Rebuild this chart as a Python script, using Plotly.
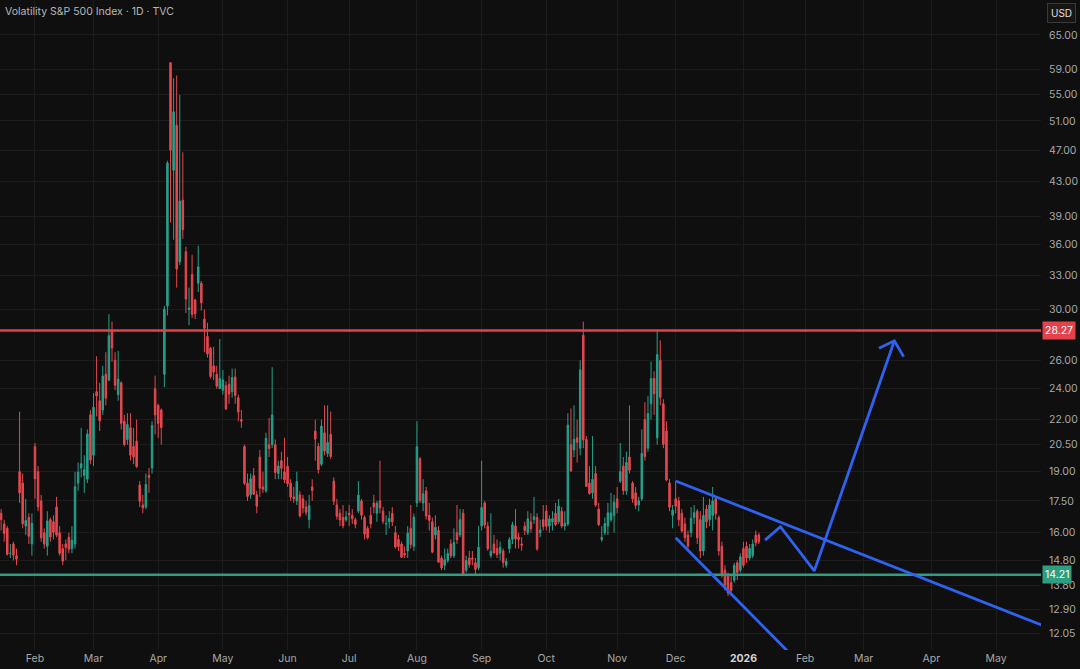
import math
import pandas as pd
import plotly.graph_objects as go

# ---------------- data ----------------
title_text = "Volatility S&P 500 Index · 1D · TVC"

holidays = ["2025-01-20", "2025-02-17", "2025-04-18", "2025-05-26", "2025-06-19",
            "2025-07-04", "2025-09-01", "2025-11-27", "2025-12-25", "2026-01-01",
            "2026-01-19", "2026-02-16", "2026-04-03", "2026-05-25"]
first_day = "2025-01-16"

# daily candles (open, high, low, close), one list per month
ohlc_2025_01 = [
    (16.9, 17.1, 16.1, 16.6), (16.4, 16.6, 15.6, 15.97), (16.2, 16.3, 15.0, 15.06),
    (15.1, 15.5, 14.9, 15.10), (15.5, 15.6, 14.8, 15.02), (15.0, 15.3, 14.6, 14.85),
    (19.0, 22.5, 17.4, 17.90), (18.4, 18.9, 16.2, 16.41), (16.3, 17.6, 15.9, 16.56),
    (16.7, 16.9, 15.5, 15.84), (15.5, 16.9, 15.0, 16.43),
]
ohlc_2025_02 = [
    (20.4, 20.6, 17.6, 18.62), (19.0, 19.3, 17.0, 17.21), (17.5, 17.8, 15.6, 15.77),
    (16.0, 16.2, 15.3, 15.50), (15.4, 17.0, 15.0, 16.54), (16.6, 16.7, 15.6, 15.81),
    (16.5, 16.8, 15.7, 16.02), (17.2, 17.7, 15.8, 15.89), (16.0, 16.3, 15.0, 15.10),
    (15.3, 15.5, 14.6, 14.77), (15.5, 15.7, 14.8, 15.35), (15.8, 16.0, 15.1, 15.27),
    (15.3, 16.3, 15.1, 15.66), (15.5, 19.0, 15.3, 18.21), (18.4, 19.5, 18.0, 18.98),
    (19.2, 21.5, 18.7, 19.43), (18.8, 19.9, 17.9, 19.10), (18.6, 21.4, 18.4, 21.13),
    (22.3, 22.6, 19.4, 19.63),
]
ohlc_2025_03 = [
    (19.9, 23.7, 19.3, 22.78), (23.8, 26.3, 22.2, 23.51), (23.2, 24.4, 21.3, 21.93),
    (22.6, 25.6, 22.3, 24.87), (25.0, 26.6, 22.9, 23.37), (24.6, 29.6, 24.5, 27.86),
    (28.3, 29.0, 25.9, 26.92), (26.0, 26.6, 23.9, 24.23), (23.6, 26.7, 23.2, 24.66),
    (24.4, 24.5, 21.4, 21.77), (21.9, 22.3, 20.4, 20.51), (20.8, 22.4, 20.5, 21.70),
    (21.5, 22.4, 19.6, 19.90), (20.4, 21.5, 19.4, 19.80), (20.7, 22.0, 19.2, 19.28),
    (18.3, 18.5, 17.2, 17.48), (17.3, 17.8, 16.9, 17.15), (17.2, 18.9, 17.1, 18.33),
    (18.8, 19.2, 17.9, 18.69), (19.2, 21.9, 18.9, 21.65), (24.0, 24.9, 21.1, 22.28),
]
ohlc_2025_04 = [
    (22.9, 23.0, 20.9, 21.77), (22.6, 22.7, 20.5, 21.51), (25.0, 30.3, 24.1, 30.02),
    (30.3, 45.6, 29.5, 45.31), (60.1, 60.13, 38.3, 46.98), (44.4, 57.5, 36.5, 52.33),
    (50.4, 57.96, 31.9, 33.62), (34.3, 54.9, 34.0, 40.72), (40.8, 46.7, 36.6, 37.56),
    (35.3, 35.8, 29.7, 30.89), (30.0, 31.9, 28.7, 30.12), (33.1, 35.0, 29.3, 29.6),
    (30.8, 30.9, 29.2, 29.65), (32.3, 35.9, 31.5, 33.82), (32.3, 32.5, 29.9, 30.57),
    (29.2, 30.0, 26.6, 28.45), (27.8, 28.9, 26.2, 26.47), (26.9, 27.0, 24.7, 24.84),
    (25.6, 27.0, 24.6, 25.15), (25.0, 25.6, 24.0, 24.17), (24.0, 27.6, 24.0, 24.70),
]
ohlc_2025_05 = [
    (23.9, 25.3, 23.6, 24.60), (24.2, 24.5, 22.6, 22.68), (24.3, 24.9, 23.0, 23.64),
    (23.8, 25.4, 23.4, 24.76), (24.8, 25.4, 23.0, 23.55), (23.4, 23.6, 21.9, 22.48),
    (22.0, 22.6, 21.5, 21.90), (20.4, 20.5, 18.3, 18.39), (18.4, 18.9, 17.5, 17.72),
    (17.8, 18.9, 17.6, 18.62), (18.8, 19.2, 17.8, 17.83), (17.8, 18.0, 16.9, 17.24),
    (19.8, 20.2, 17.7, 18.14), (18.2, 19.0, 17.9, 18.09), (18.0, 21.2, 17.9, 20.87),
    (20.5, 22.1, 19.8, 20.28), (20.5, 25.5, 20.3, 22.29), (20.5, 20.8, 18.6, 18.96),
    (18.9, 19.6, 18.6, 19.31), (19.6, 20.1, 18.6, 19.18), (19.0, 20.9, 18.4, 18.57),
]
ohlc_2025_06 = [
    (19.3, 19.8, 18.2, 18.36), (18.4, 18.6, 17.5, 17.69), (17.7, 18.2, 17.4, 17.61),
    (17.5, 19.0, 17.3, 18.48), (17.8, 18.0, 16.7, 16.77), (17.6, 17.8, 16.9, 17.16),
    (17.2, 17.5, 16.8, 16.95), (16.6, 17.8, 16.2, 17.26), (18.2, 18.6, 17.5, 18.02),
    (21.3, 22.0, 19.6, 20.82), (20.4, 20.6, 18.9, 19.11), (19.4, 22.0, 19.3, 21.60),
    (21.2, 22.9, 19.9, 20.14), (20.0, 22.9, 19.8, 20.62), (21.1, 22.5, 19.7, 19.83),
    (18.5, 18.7, 17.3, 17.48), (17.3, 17.6, 16.6, 16.76), (16.9, 17.1, 16.3, 16.59),
    (16.7, 17.3, 16.2, 16.32), (16.6, 17.0, 16.5, 16.73),
]
ohlc_2025_07 = [
    (16.9, 17.3, 16.3, 16.83), (16.8, 17.1, 16.4, 16.64), (16.6, 16.7, 16.2, 16.38),
    (17.0, 18.5, 16.9, 17.79), (17.5, 17.6, 16.6, 16.81), (16.7, 16.8, 15.7, 15.94),
    (16.2, 16.3, 15.7, 15.78), (16.8, 17.2, 16.2, 16.40), (17.4, 17.8, 16.9, 17.20),
    (16.9, 17.5, 16.5, 17.38), (17.5, 19.6, 16.9, 17.16), (17.0, 17.2, 16.4, 16.52),
    (16.4, 16.8, 15.9, 16.41), (16.5, 17.0, 16.2, 16.65), (16.9, 17.2, 16.3, 16.50),
    (16.0, 16.3, 15.3, 15.37), (15.7, 15.9, 15.2, 15.39), (15.5, 15.6, 14.9, 14.93),
    (15.1, 15.4, 14.9, 15.03), (15.2, 16.3, 14.9, 15.98), (16.2, 17.3, 15.3, 15.48),
    (15.4, 16.9, 15.2, 16.72),
]
ohlc_2025_08 = [
    (17.4, 21.9, 17.2, 20.38), (19.7, 19.8, 17.4, 17.52), (17.4, 18.6, 17.0, 17.85),
    (18.0, 18.2, 16.6, 16.77), (16.8, 17.4, 16.1, 16.57), (16.5, 16.7, 15.1, 15.15),
    (15.9, 16.8, 15.7, 16.25), (16.1, 16.3, 14.7, 14.73), (14.9, 15.0, 14.4, 14.49),
    (14.6, 15.3, 14.4, 14.83), (14.8, 15.3, 14.7, 15.09), (15.5, 15.7, 14.9, 14.99),
    (15.0, 16.2, 14.9, 15.57), (16.0, 17.3, 15.5, 15.69), (15.9, 17.1, 15.8, 16.60),
    (16.9, 17.1, 14.2, 14.22), (14.4, 15.0, 14.3, 14.79), (14.9, 15.2, 14.5, 14.62),
    (14.9, 15.2, 14.6, 14.85), (14.7, 14.9, 14.2, 14.43), (14.5, 16.3, 14.4, 15.36),
]
ohlc_2025_09 = [
    (16.3, 19.6, 16.1, 17.17), (17.4, 17.5, 16.2, 16.35), (16.3, 16.5, 15.2, 15.30),
    (15.0, 16.9, 14.9, 15.18), (15.5, 15.9, 15.1, 15.11), (15.3, 15.7, 14.9, 15.04),
    (15.1, 15.6, 14.8, 15.35), (15.2, 15.3, 14.5, 14.71), (14.6, 14.9, 14.5, 14.76),
    (15.3, 15.8, 15.1, 15.69), (15.7, 16.5, 15.5, 16.36), (16.3, 17.1, 15.3, 15.72),
    (15.8, 16.0, 15.3, 15.70), (15.5, 15.8, 15.2, 15.45), (16.3, 16.5, 15.9, 16.10),
    (16.0, 17.0, 15.9, 16.64), (16.5, 16.9, 16.0, 16.18), (16.6, 17.7, 16.4, 16.74),
    (16.7, 16.9, 15.2, 15.29), (16.0, 16.6, 15.8, 16.12), (16.6, 17.3, 16.1, 16.28),
]
ohlc_2025_10 = [
    (17.0, 17.3, 16.1, 16.29), (16.3, 16.8, 16.0, 16.63), (16.5, 17.0, 16.1, 16.65),
    (16.9, 17.4, 16.3, 16.37), (16.5, 17.6, 16.4, 17.24), (17.0, 17.2, 16.2, 16.30),
    (16.3, 17.0, 16.1, 16.43), (16.4, 22.4, 16.3, 21.66), (20.5, 22.7, 19.0, 19.03),
    (20.2, 22.9, 19.8, 20.81), (20.9, 22.0, 19.5, 20.64), (20.3, 26.0, 19.9, 25.31),
    (27.9, 28.99, 20.3, 20.78), (20.8, 21.0, 18.2, 18.23), (18.4, 19.3, 17.8, 17.87),
    (17.9, 21.0, 17.6, 18.60), (18.9, 19.3, 17.2, 17.30), (17.1, 17.4, 16.3, 16.37),
    (15.7, 16.3, 15.6, 15.79), (16.0, 16.7, 15.9, 16.42), (16.3, 17.4, 15.9, 16.92),
    (16.6, 17.9, 16.5, 16.91), (16.8, 17.8, 16.0, 17.44),
]
ohlc_2025_11 = [
    (17.6, 18.2, 16.9, 17.17), (18.5, 20.6, 18.4, 19.00), (19.3, 19.8, 17.8, 18.01),
    (18.0, 20.1, 17.8, 19.50), (19.8, 22.9, 18.9, 19.08), (18.4, 18.5, 17.4, 17.60),
    (17.9, 18.2, 17.1, 17.28), (17.3, 17.7, 17.0, 17.51), (17.6, 21.4, 17.5, 20.00),
    (22.0, 23.1, 19.6, 19.83), (20.3, 23.5, 20.1, 22.38), (23.0, 25.9, 22.0, 24.69),
    (24.7, 25.2, 22.3, 23.66), (20.9, 28.27, 20.5, 26.42), (26.0, 27.5, 22.9, 23.43),
    (23.0, 23.3, 20.3, 20.52), (21.3, 21.9, 18.5, 18.56), (18.4, 18.6, 17.0, 17.19),
    (16.8, 17.3, 16.2, 17.05),
]
ohlc_2025_12 = [
    (17.6, 18.5, 16.9, 17.24), (17.5, 17.7, 16.3, 16.59), (16.9, 17.1, 16.0, 16.08),
    (16.4, 16.7, 15.6, 15.78), (15.9, 16.1, 15.3, 15.41), (16.0, 17.2, 15.8, 16.66),
    (16.7, 17.3, 16.4, 16.93), (17.0, 17.1, 15.5, 15.77), (16.6, 17.0, 14.9, 15.20),
    (15.2, 17.7, 15.0, 16.80), (17.1, 17.3, 16.2, 16.50), (16.6, 17.6, 16.3, 17.30),
    (16.8, 18.2, 16.1, 17.50), (17.6, 17.7, 16.6, 16.87), (16.7, 16.8, 15.0, 15.20),
    (15.4, 15.6, 14.1, 14.20), (14.4, 14.6, 13.6, 13.80), (14.2, 14.3, 13.38, 13.50),
    (13.9, 14.2, 13.4, 13.60), (14.0, 14.7, 13.9, 14.60), (14.7, 14.8, 14.0, 14.30),
    (14.4, 15.1, 14.3, 14.95),
]
ohlc_2026_01 = [
    (15.3, 15.6, 14.5, 14.60), (15.4, 15.6, 14.7, 14.90), (14.9, 15.5, 14.8, 15.30),
    (15.0, 15.7, 14.9, 15.50), (15.9, 16.1, 15.4, 15.55), (15.9, 16.0, 15.5, 15.60),
]

monthly = [
    ("2025-01", ohlc_2025_01), ("2025-02", ohlc_2025_02), ("2025-03", ohlc_2025_03),
    ("2025-04", ohlc_2025_04), ("2025-05", ohlc_2025_05), ("2025-06", ohlc_2025_06),
    ("2025-07", ohlc_2025_07), ("2025-08", ohlc_2025_08), ("2025-09", ohlc_2025_09),
    ("2025-10", ohlc_2025_10), ("2025-11", ohlc_2025_11), ("2025-12", ohlc_2025_12),
    ("2026-01", ohlc_2026_01),
]

resistance_level = 28.27
support_level = 14.21

y_tick_values = [12.05, 12.90, 13.80, 14.80, 16.00, 17.50, 19.00, 20.50, 22.00, 24.00,
                 26.00, 30.00, 33.00, 36.00, 39.00, 43.00, 47.00, 51.00, 55.00, 59.00, 65.00]

month_ticks = [("2025-02", "Feb"), ("2025-03", "Mar"), ("2025-04", "Apr"), ("2025-05", "May"),
               ("2025-06", "Jun"), ("2025-07", "Jul"), ("2025-08", "Aug"), ("2025-09", "Sep"),
               ("2025-10", "Oct"), ("2025-11", "Nov"), ("2025-12", "Dec"), ("2026-01", "2026"),
               ("2026-02", "Feb"), ("2026-03", "Mar"), ("2026-04", "Apr"), ("2026-05", "May")]

# hand-drawn chart annotations: (trading date, price)
wedge_upper = [("2025-12-01", 18.51), ("2026-05-22", 12.33)]
wedge_lower = [("2025-12-01", 15.77), ("2026-01-29", 11.10)]
projection_path = [("2026-01-13", 15.67), ("2026-01-21", 16.27), ("2026-02-05", 14.37),
                   ("2026-03-16", 27.47)]
arrow_head = [("2026-03-09", 26.89), ("2026-03-16", 27.47), ("2026-03-19", 26.27)]

# ---------------- trading-day scale ----------------
cal = pd.bdate_range("2025-01-02", "2026-06-30")
cal = cal[~cal.isin(pd.to_datetime(holidays))]
cal_str = [d.strftime("%Y-%m-%d") for d in cal]
pos = {d: i for i, d in enumerate(cal_str)}

xs, opens, highs, lows, closes = [], [], [], [], []
for ym, rows in monthly:
    days = [d for d in cal_str if d.startswith(ym) and d >= first_day]
    days = days[:len(rows)]
    assert len(days) == len(rows), ym
    for d, (o, h, l, c) in zip(days, rows):
        xs.append(pos[d]); opens.append(o); highs.append(h); lows.append(l); closes.append(c)

anchor = pos["2025-02-03"]
x_range = [anchor - 11.36, anchor + 326.6]

tickvals, ticktext = [], []
for ym, lab in month_ticks:
    first = next(d for d in cal_str if d.startswith(ym))
    tickvals.append(pos[first])
    if lab == "2026":
        ticktext.append('<b><span style="color:#d6d6d6">2026</span></b>')
    else:
        ticktext.append(lab)

UP = "#26a08a"
DOWN = "#e5484f"
BLUE = "#2f62f0"
RED_LINE = "#e5414a"
GREEN_LINE = "#2e9e80"
BG = "#0f0f0f"
GRID = "#1c1c1c"
TXT = "#a8a8a8"

fig = go.Figure()
fig.add_trace(go.Candlestick(
    x=xs, open=opens, high=highs, low=lows, close=closes,
    increasing=dict(line=dict(color=UP, width=1), fillcolor=UP),
    decreasing=dict(line=dict(color=DOWN, width=1), fillcolor=DOWN),
    whiskerwidth=0, hoverinfo="skip", showlegend=False,
))

fig.add_trace(go.Scatter(x=x_range, y=[resistance_level] * 2, mode="lines",
                         line=dict(color=RED_LINE, width=2.5), hoverinfo="skip"))
fig.add_trace(go.Scatter(x=x_range, y=[support_level] * 2, mode="lines",
                         line=dict(color=GREEN_LINE, width=2.5), hoverinfo="skip"))

for pts in (wedge_upper, wedge_lower, projection_path, arrow_head):
    fig.add_trace(go.Scatter(x=[pos[d] for d, _ in pts], y=[p for _, p in pts],
                             mode="lines", line=dict(color=BLUE, width=2.8),
                             hoverinfo="skip"))

fig.update_layout(
    width=1080, height=669,
    margin=dict(l=0, r=39, t=0, b=19),
    paper_bgcolor=BG, plot_bgcolor=BG,
    showlegend=False, hovermode=False,
    font=dict(family="Inter, Roboto, sans-serif", size=10.5, color=TXT),
    xaxis=dict(range=x_range, tickmode="array", tickvals=tickvals, ticktext=ticktext,
               showgrid=True, gridcolor=GRID, gridwidth=1, zeroline=False,
               showline=False, ticks="", rangeslider=dict(visible=False),
               tickfont=dict(size=10.5, color=TXT)),
    yaxis=dict(type="log", side="right",
               range=[math.log10(11.50), math.log10(71.7)],
               tickmode="array", tickvals=y_tick_values,
               ticktext=[f"{v:.2f}" for v in y_tick_values],
               showgrid=True, gridcolor=GRID, gridwidth=1, zeroline=False,
               showline=False, ticks="", ticklabelstandoff=7,
               tickfont=dict(size=10.5, color=TXT)),
)

fig.add_annotation(x=0, y=1, xref="paper", yref="paper", xanchor="left", yanchor="top",
                   xshift=3, yshift=-3, text=title_text, showarrow=False,
                   font=dict(size=10.5, color="#b8b8b8"))
fig.add_annotation(x=1, y=1, xref="paper", yref="paper", xanchor="left", yanchor="top",
                   xshift=6, yshift=-3, text="USD", showarrow=False,
                   bordercolor="#3a3a3a", borderwidth=1, borderpad=3, bgcolor="#151515",
                   font=dict(size=10, color="#e0e0e0"))
for lvl, col in ((resistance_level, RED_LINE), (support_level, GREEN_LINE)):
    fig.add_annotation(x=1, y=math.log10(lvl), xref="paper", yref="y", xanchor="left",
                       yanchor="middle", xshift=1, text=f"{lvl:.2f}", showarrow=False,
                       bgcolor=col, borderpad=2, font=dict(size=10.5, color="#ffffff"))

fig.write_html("out.html",
               config={"displayModeBar": False, "staticPlot": True},
               post_script="document.body.style.margin='0';"
                           "document.body.style.padding='0';"
                           "document.body.style.background='#0f0f0f';"
                           "document.body.style.overflow='hidden';")
